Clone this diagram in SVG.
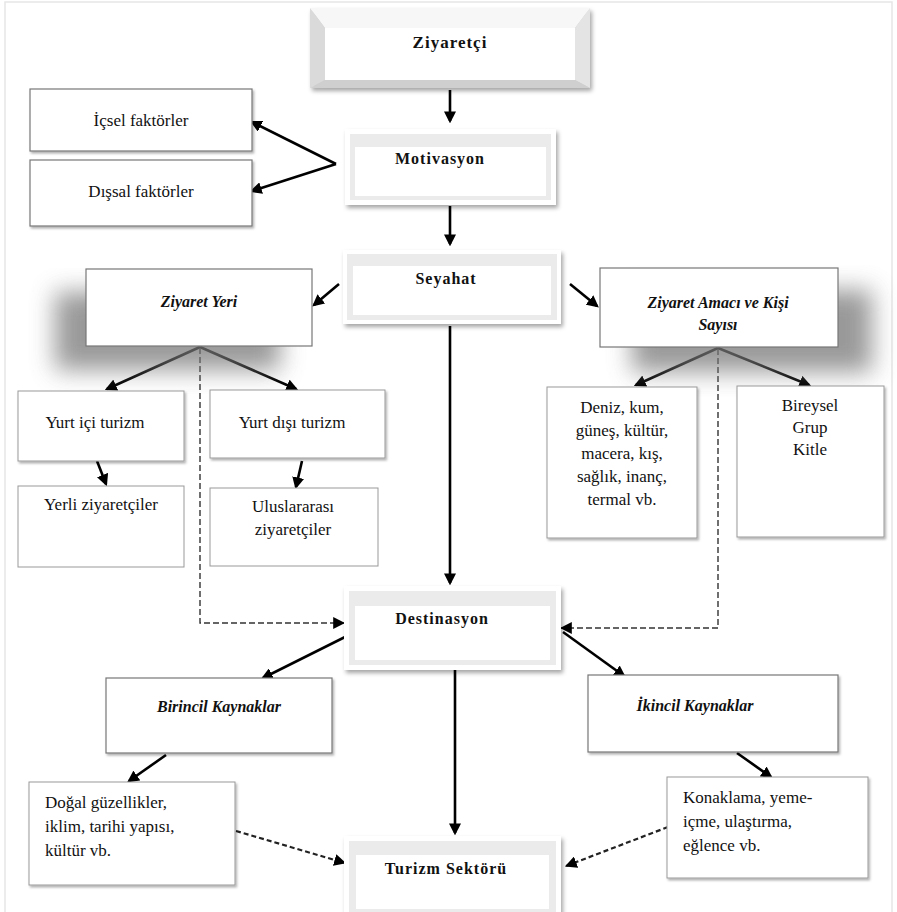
<svg xmlns="http://www.w3.org/2000/svg" width="897" height="912" viewBox="0 0 897 912" font-family="Liberation Serif, Times New Roman, serif">
<defs>
<style>
text{fill:#111;text-anchor:middle}
.t{font-size:17px}
.l{text-anchor:start}
.b{font-size:16px;font-weight:bold;letter-spacing:1px}
.bi{font-size:16px;font-weight:bold;font-style:italic}
.box{fill:#fff;stroke:#777;stroke-width:1.2}
.sbox{fill:#fff;stroke:#999;stroke-width:1}
.band{fill:#ebebeb}
.inner{fill:#fff}
.c{fill:none;stroke:#000;stroke-width:2.6}
.d{fill:none;stroke:#333;stroke-width:1.4;stroke-dasharray:6 3}
.dd{fill:none;stroke:#222;stroke-width:2.2;stroke-dasharray:5 3}
</style>
<marker id="ah" viewBox="0 0 10 10" refX="8" refY="5" markerWidth="12" markerHeight="12" markerUnits="userSpaceOnUse" orient="auto"><path d="M0,0 L10,5 L0,10 z" fill="#000"/></marker>
<marker id="ahd" viewBox="0 0 10 10" refX="9" refY="5" markerWidth="12" markerHeight="12" markerUnits="userSpaceOnUse" orient="auto"><path d="M0,0 L10,5 L0,10 z" fill="#000"/></marker>
<filter id="sh" x="-10%" y="-10%" width="130%" height="140%"><feDropShadow dx="2" dy="3" stdDeviation="2" flood-color="#000" flood-opacity="0.35"/></filter>
<filter id="sh2" x="-10%" y="-10%" width="130%" height="140%"><feDropShadow dx="1.5" dy="2" stdDeviation="1.2" flood-color="#000" flood-opacity="0.3"/></filter>
<filter id="blur" x="-30%" y="-30%" width="160%" height="160%"><feGaussianBlur stdDeviation="12"/></filter>
</defs>
<rect x="0" y="0" width="897" height="912" fill="#fff"/>
<rect x="5" y="2" width="887" height="920" fill="none" stroke="#e6e6e6" stroke-width="1.5"/>

<g id="connectors">
<path class="c" d="M450,90 L450,121" marker-end="url(#ah)"/>
<path class="c" d="M336,164 L252,122" marker-end="url(#ah)"/>
<path class="c" d="M336,164 L252,191" marker-end="url(#ah)"/>
<path class="c" d="M450,206 L450,244" marker-end="url(#ah)"/>
<path class="c" d="M339,284 L314,305" marker-end="url(#ah)"/>
<path class="c" d="M570,284 L597,306" marker-end="url(#ah)"/>
<path class="c" d="M450,326 L450,583" marker-end="url(#ah)"/>
<path class="c" d="M200,347 L107,389" marker-end="url(#ah)"/>
<path class="c" d="M200,347 L296,389" marker-end="url(#ah)"/>
<path class="d" d="M200,348 L200,623 L344,623" marker-end="url(#ahd)"/>
<path class="c" d="M718,348 L636,385" marker-end="url(#ah)"/>
<path class="c" d="M718,348 L809,385" marker-end="url(#ah)"/>
<path class="d" d="M718,349 L718,628 L561,628" marker-end="url(#ahd)"/>
<path class="c" d="M97,461 L106,484" marker-end="url(#ah)"/>
<path class="c" d="M302,461 L296,487" marker-end="url(#ah)"/>
<path class="c" d="M345,637 L263,678" marker-end="url(#ah)"/>
<path class="c" d="M563,632 L624,676" marker-end="url(#ah)"/>
<path class="c" d="M455,670 L455,833" marker-end="url(#ah)"/>
<path class="c" d="M166,755 L129,781" marker-end="url(#ah)"/>
<path class="c" d="M737,753 L771,777" marker-end="url(#ah)"/>
<path class="dd" d="M236,831 L345,863" marker-end="url(#ahd)"/>
<path class="dd" d="M668,827 L566,866" marker-end="url(#ahd)"/>
</g>

<g id="ziyaretci">
<g filter="url(#sh)">
<polygon points="310,8 590,8 575,28 325,28" fill="#f7f7f7"/>
<polygon points="310,8 325,28 325,80 310,88" fill="#dadada"/>
<polygon points="590,8 575,28 575,80 590,88" fill="#e4e4e4"/>
<polygon points="310,88 325,80 575,80 590,88" fill="#cfcfcf"/>
<rect x="325" y="28" width="250" height="52" fill="#fff"/>
</g>
<text class="b" x="450" y="48" style="font-size:17px">Ziyaretçi</text>
</g>

<g id="motivasyon">
<rect x="345" y="129" width="211" height="76" fill="#fff" filter="url(#sh)"/>
<rect class="band" x="350" y="134" width="201" height="66"/>
<rect class="inner" x="355" y="147" width="191" height="49"/>
<text class="b" x="440" y="164">Motivasyon</text>
</g>

<g id="icsel">
<rect class="box" x="30" y="89" width="222" height="62" filter="url(#sh2)"/>
<text class="t" x="141" y="126">İçsel faktörler</text>
</g>

<g id="dissal">
<rect class="box" x="30" y="160" width="222" height="66" filter="url(#sh2)"/>
<text class="t" x="141" y="197">Dışsal faktörler</text>
</g>

<g id="seyahat">
<rect x="343" y="250" width="218" height="74" fill="#fff" filter="url(#sh)"/>
<rect class="band" x="347" y="254" width="210" height="66"/>
<rect class="inner" x="353" y="266" width="198" height="49"/>
<text class="b" x="446" y="284">Seyahat</text>
</g>

<g id="ziyaret-yeri">
<rect x="55" y="292" width="225" height="78" fill="#777" opacity="0.75" filter="url(#blur)"/>
<rect class="box" x="86" y="269" width="226" height="77"/>
<text class="bi" x="199" y="307">Ziyaret Yeri</text>
</g>

<g id="ziyaret-amaci">
<rect x="632" y="290" width="240" height="82" fill="#777" opacity="0.75" filter="url(#blur)"/>
<rect class="box" x="600" y="268" width="238" height="79"/>
<text class="bi" x="718" y="308">Ziyaret Amacı ve Kişi</text>
<text class="bi" x="718" y="330">Sayısı</text>
</g>

<g id="yurt-ici">
<rect class="sbox" x="18" y="391" width="166" height="70" filter="url(#sh2)"/>
<text class="t" x="95" y="428">Yurt içi turizm</text>
</g>

<g id="yurt-disi">
<rect class="sbox" x="210" y="390" width="175" height="68" filter="url(#sh2)"/>
<text class="t" x="292" y="428">Yurt dışı turizm</text>
</g>

<g id="yerli">
<rect class="sbox" x="18" y="486" width="166" height="81"/>
<text class="t" x="101" y="510">Yerli ziyaretçiler</text>
</g>

<g id="uluslararasi">
<rect class="sbox" x="210" y="488" width="168" height="78"/>
<text class="t" x="293" y="512">Uluslararası</text>
<text class="t" x="293" y="535">ziyaretçiler</text>
</g>

<g id="deniz">
<rect class="sbox" x="547" y="387" width="150" height="151" filter="url(#sh2)"/>
<text class="t" x="622" y="413">Deniz, kum,</text>
<text class="t" x="622" y="436">güneş, kültür,</text>
<text class="t" x="622" y="459">macera, kış,</text>
<text class="t" x="622" y="482">sağlık, inanç,</text>
<text class="t" x="622" y="505">termal vb.</text>
</g>

<g id="bireysel">
<rect class="sbox" x="737" y="386" width="147" height="151" filter="url(#sh2)"/>
<text class="t" x="810" y="411">Bireysel</text>
<text class="t" x="810" y="433">Grup</text>
<text class="t" x="810" y="455">Kitle</text>
</g>

<g id="destinasyon">
<rect x="344" y="586" width="217" height="84" fill="#fff" filter="url(#sh)"/>
<rect class="band" x="349" y="591" width="207" height="74"/>
<rect class="inner" x="355" y="606" width="195" height="54"/>
<text class="b" x="442" y="624">Destinasyon</text>
</g>

<g id="birincil">
<rect class="box" x="106" y="678" width="226" height="75" filter="url(#sh2)"/>
<text class="bi" x="219" y="712">Birincil Kaynaklar</text>
</g>

<g id="ikincil">
<rect class="box" x="588" y="675" width="250" height="77" filter="url(#sh2)"/>
<text class="bi" x="695" y="711">İkincil Kaynaklar</text>
</g>

<g id="dogal">
<rect class="sbox" x="29" y="782" width="206" height="103" filter="url(#sh2)"/>
<text class="t l" x="45" y="808">Doğal güzellikler,</text>
<text class="t l" x="45" y="832">iklim, tarihi yapısı,</text>
<text class="t l" x="45" y="856">kültür vb.</text>
</g>

<g id="konaklama">
<rect class="sbox" x="667" y="777" width="201" height="101" filter="url(#sh2)"/>
<text class="t l" x="683" y="803">Konaklama, yeme-</text>
<text class="t l" x="683" y="827">içme, ulaştırma,</text>
<text class="t l" x="683" y="851">eğlence vb.</text>
</g>

<g id="turizm-sektoru">
<rect x="344" y="836" width="217" height="84" fill="#fff" filter="url(#sh)"/>
<rect class="band" x="349" y="841" width="207" height="72"/>
<rect class="inner" x="356" y="855" width="193" height="54"/>
<text class="b" x="446" y="874">Turizm Sektörü</text>
</g>
</svg>
